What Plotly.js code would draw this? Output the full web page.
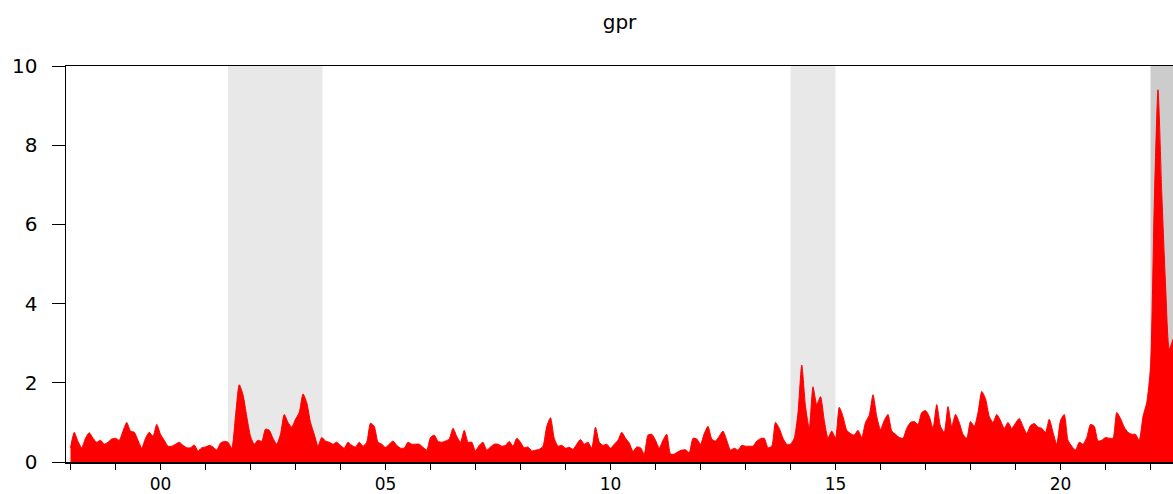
<!DOCTYPE html>
<html>
<head>
<meta charset="utf-8">
<script src="https://cdn.plot.ly/plotly-3.0.1.min.js"></script>
<style>
  html, body { margin: 0; padding: 0; background: #fff; }
  #plot { width: 1173px; height: 494px; }
</style>
</head>
<body>
<div id="plot"></div>
<script>
// monthly gpr values, Jan 1998 onward (one row per year)
var startYear = 1998;
var gprValues = [
  0.36, 0.75, 0.52, 0.36, 0.60, 0.74, 0.60, 0.50, 0.55, 0.45, 0.50, 0.58,
  0.60, 0.55, 0.78, 1.00, 0.78, 0.75, 0.55, 0.35, 0.60, 0.75, 0.65, 0.95,
  0.70, 0.55, 0.40, 0.40, 0.45, 0.50, 0.42, 0.36, 0.36, 0.43, 0.28, 0.36,
  0.38, 0.42, 0.38, 0.30, 0.48, 0.52, 0.50, 0.35, 1.16, 1.95, 1.70, 1.15,
  0.65, 0.45, 0.55, 0.52, 0.83, 0.80, 0.60, 0.45, 0.70, 1.20, 1.00, 0.88,
  1.08, 1.25, 1.72, 1.50, 1.00, 0.70, 0.40, 0.62, 0.53, 0.50, 0.45, 0.50,
  0.42, 0.35, 0.50, 0.42, 0.38, 0.50, 0.40, 0.50, 0.98, 0.90, 0.50, 0.45,
  0.37, 0.45, 0.53, 0.42, 0.35, 0.35, 0.50, 0.45, 0.45, 0.45, 0.37, 0.30,
  0.62, 0.68, 0.52, 0.50, 0.53, 0.58, 0.85, 0.65, 0.50, 0.80, 0.50, 0.50,
  0.28, 0.42, 0.50, 0.30, 0.38, 0.45, 0.45, 0.40, 0.42, 0.52, 0.40, 0.60,
  0.50, 0.36, 0.38, 0.28, 0.30, 0.32, 0.40, 0.90, 1.12, 0.60, 0.40, 0.42,
  0.35, 0.37, 0.32, 0.45, 0.57, 0.45, 0.50, 0.35, 0.88, 0.50, 0.42, 0.45,
  0.35, 0.45, 0.55, 0.75, 0.60, 0.48, 0.27, 0.38, 0.36, 0.20, 0.68, 0.70,
  0.55, 0.35, 0.55, 0.70, 0.20, 0.20, 0.26, 0.30, 0.31, 0.24, 0.60, 0.58,
  0.45, 0.72, 0.90, 0.58, 0.53, 0.65, 0.78, 0.55, 0.30, 0.35, 0.30, 0.42,
  0.40, 0.40, 0.40, 0.53, 0.59, 0.60, 0.36, 0.40, 1.00, 0.85, 0.60, 0.45,
  0.45, 0.60, 1.25, 2.45, 1.40, 0.85, 1.90, 1.45, 1.65, 1.05, 0.60, 0.78,
  0.60, 1.38, 1.15, 0.80, 0.72, 0.68, 0.80, 0.62, 1.00, 1.18, 1.70, 1.15,
  0.82, 1.05, 1.20, 0.78, 0.70, 0.62, 0.60, 0.85, 1.00, 1.02, 0.95, 1.25,
  1.30, 1.15, 0.85, 1.45, 0.90, 0.75, 1.40, 0.90, 1.20, 1.00, 0.70, 0.60,
  1.02, 0.90, 1.25, 1.78, 1.60, 1.15, 1.00, 1.20, 1.05, 0.85, 1.00, 0.85,
  0.98, 1.10, 0.90, 0.72, 0.92, 0.97, 0.88, 0.85, 0.75, 1.08, 0.75, 0.45,
  1.05, 1.20, 0.55, 0.40, 0.30, 0.50, 0.45, 0.62, 0.95, 0.90, 0.53, 0.55,
  0.62, 0.60, 0.60, 1.25, 1.10, 0.88, 0.75, 0.70, 0.70, 0.55, 1.15, 1.50,
  2.40, 6.50, 9.40, 6.80, 4.50, 2.85, 3.10
];

// shaded periods
var shadeStart = [2001.5, 2014.0, 2022.0];
var shadeEnd = [2003.6, 2015.0, 2023.0];
var shadeColor = ["#e8e8e8", "#e8e8e8", "#cccccc"];

// x ticks every year, labelled every five
var tickYears = [];
var tickLabels = [];
for (var yr = 1998; yr <= 2022; yr++) {
  tickYears.push(yr);
  tickLabels.push(yr % 5 === 0 ? String(yr).slice(2) : "");
}

var xDates = gprValues.map(function(v, i) {
  return startYear + i / 12;
});

var trace = {
  x: xDates,
  y: gprValues,
  type: "scatter",
  mode: "lines",
  fill: "tozeroy",
  fillcolor: "#ff0000",
  line: {color: "#ff0000", width: 1, shape: "spline", smoothing: 0.6},
  hoverinfo: "skip"
};

var shapes = shadeStart.map(function(s, i) {
  return {
    type: "rect", layer: "below",
    xref: "x", yref: "paper",
    x0: s, x1: shadeEnd[i], y0: 0, y1: 1,
    fillcolor: shadeColor[i], line: {width: 0}
  };
});

var font = {family: "DejaVu Sans, Arial, sans-serif", size: 20, color: "#000"};
var xFont = {family: "DejaVu Sans, Arial, sans-serif", size: 17, color: "#000"};

var layout = {
  width: 1173,
  height: 494,
  margin: {l: 66, r: 0, t: 66, b: 32},
  paper_bgcolor: "#fff",
  plot_bgcolor: "#fff",
  showlegend: false,
  title: {
    text: "gpr",
    font: font,
    xref: "paper", x: 0.5, xanchor: "center",
    yref: "container", y: 0.955, yanchor: "middle"
  },
  xaxis: {
    range: [1997.9, 2022.5],
    tickmode: "array",
    tickvals: tickYears,
    ticktext: tickLabels,
    ticks: "outside",
    ticklen: 6,
    tickcolor: "#000",
    tickfont: xFont,
    ticklabelstandoff: 0,
    showgrid: false,
    zeroline: false,
    showline: true,
    linecolor: "#000",
    linewidth: 1.5,
    mirror: true
  },
  yaxis: {
    range: [0, 10],
    tickvals: [0, 2, 4, 6, 8, 10],
    ticks: "outside",
    ticklen: 13,
    tickcolor: "#000",
    tickfont: font,
    ticklabelstandoff: 10,
    showgrid: false,
    zeroline: false,
    showline: true,
    linecolor: "#000",
    linewidth: 1.5,
    mirror: true
  },
  shapes: shapes
};

Plotly.newPlot("plot", [trace], layout, {staticPlot: true});
</script>
</body>
</html>
